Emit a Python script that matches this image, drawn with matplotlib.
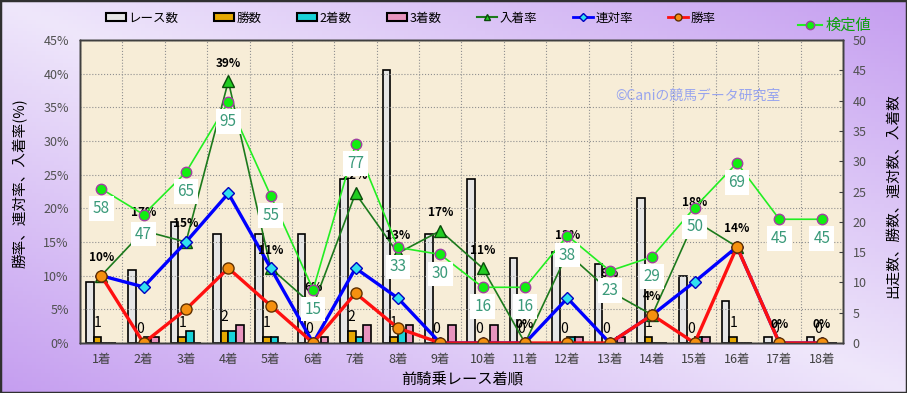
import numpy as np
import matplotlib.pyplot as plt
from matplotlib.patches import Patch, Rectangle
from matplotlib.lines import Line2D
from matplotlib.colors import to_rgb

plt.rcParams['font.family'] = ['Noto Sans CJK JP', 'DejaVu Sans']

# データ（前走着順別）
places = ['1着', '2着', '3着', '4着', '5着', '6着', '7着', '8着', '9着',
          '10着', '11着', '12着', '13着', '14着', '15着', '16着', '17着', '18着']
races = np.array([10, 12, 20, 18, 18, 18, 27, 45, 18, 27, 14, 15, 13, 24, 11, 7, 1, 1])
wins = np.array([1, 0, 1, 2, 1, 0, 2, 1, 0, 0, 0, 0, 0, 1, 0, 1, 0, 0])
seconds = np.array([0, 1, 2, 2, 1, 0, 1, 2, 0, 0, 0, 1, 0, 0, 1, 0, 0, 0])
thirds = np.array([0, 1, 0, 3, 0, 1, 3, 3, 3, 3, 0, 1, 1, 0, 1, 0, 0, 0])
test_vals = [58, 47, 65, 95, 55, 15, 77, 33, 30, 16, 16, 38, 23, 29, 50, 69, 45, 45]

win_rate = wins / races * 100
ren_rate = (wins + seconds) / races * 100
in_rate = (wins + seconds + thirds) / races * 100

x = np.arange(len(places))
w = 0.18

fig = plt.figure(figsize=(9.07, 3.93), dpi=100)

# 背景グラデーション
ax_bg = fig.add_axes([0, 0, 1, 1], zorder=-10)
u, v = np.meshgrid(np.linspace(0, 1, 200), np.linspace(0, 1, 100))
t = np.abs(u - v)[..., None]
light = np.array(to_rgb('#efe7fb'))
purple = np.array(to_rgb('#c59ef0'))
ax_bg.imshow(light * (1 - t) + purple * t, aspect='auto', extent=[0, 1, 0, 1])
ax_bg.axis('off')
fig.patches.append(Rectangle((0, 0), 1, 1, transform=fig.transFigure,
                             fill=False, ec='#303030', lw=2.5))

rect = [0.0882, 0.1272, 0.8412, 0.771]
ax = fig.add_axes(rect)
axb = ax.twinx()
ax3 = ax.twinx()
axb.set_zorder(1)
ax.set_zorder(2)
ax3.set_zorder(3)
ax.patch.set_visible(False)
ax3.patch.set_visible(False)
axb.patch.set_visible(True)
axb.patch.set_facecolor('#f7edd7')

# 棒グラフ（右軸）
axb.bar(x - 1.5 * w, races, w, color='#e6e6e6', edgecolor='black', lw=1.2)
axb.bar(x - 0.5 * w, wins, w, color='#e5a800', edgecolor='black', lw=1.2)
axb.bar(x + 0.5 * w, seconds, w, color='#18d2d8', edgecolor='black', lw=1.2)
axb.bar(x + 1.5 * w, thirds, w, color='#e894be', edgecolor='black', lw=1.2)
for i in x:
    axb.annotate(str(wins[i]), (i - 0.5 * w, wins[i]), xytext=(0, 10),
                 textcoords='offset points', ha='center', va='center', fontsize=10)
axb.set_ylim(0, 50)
axb.set_yticks(range(0, 51, 5))
axb.tick_params(axis='y', direction='in', length=3, pad=7, labelsize=9,
                labelcolor='#505050', color='#404040')

# 折れ線（左軸）
ax.plot(x, in_rate, color='#1c7a1c', lw=1.2, marker='^', ms=8.5,
        mfc='#22cc22', mec='#0a4a0a', zorder=3)
ax.plot(x, ren_rate, color='#0000ff', lw=2.4, marker='D', ms=6.5,
        mfc='#30e0f0', mec='#0000c0', zorder=4)
ax.plot(x, win_rate, color='#ff1010', lw=2.4, marker='o', ms=8,
        mfc='#f59010', mec='#603000', zorder=5)
for i in x:
    ax.annotate(f"{round(in_rate[i])}%", (i, in_rate[i]), xytext=(0, 13),
                textcoords='offset points', ha='center', va='center',
                fontsize=8.5, fontweight='bold', zorder=6)
ax.set_ylim(0, 45)
ax.set_xlim(-0.5, len(places) - 0.5)
ax.set_yticks(range(0, 46, 5))
ax.set_yticklabels([f"{v}%" for v in range(0, 46, 5)])
ax.set_xticks(x)
ax.set_xticklabels(places)
ax.set_xticks(np.arange(-0.5, len(places), 1), minor=True)
ax.tick_params(axis='y', length=0, pad=8, labelsize=9, labelcolor='#505050')
ax.tick_params(axis='x', which='both', length=0, pad=7, labelsize=9, labelcolor='#404040')
ax.grid(True, axis='y', which='major', ls=':', color='#909090', lw=0.8)
ax.grid(True, axis='x', which='minor', ls=':', color='#909090', lw=0.8)
ax.text(0.81, 0.816, '©Caniの競馬データ研究室', transform=ax.transAxes,
        ha='center', va='center', fontsize=10, color='#98a4ee')

# 検定値
ax3.plot(x, test_vals, color='#22ee22', lw=1.2, marker='o', ms=7.5,
         mfc='#11ee11', mec='#a040a0')
for i in x:
    ax3.annotate(str(test_vals[i]), (i, test_vals[i]), xytext=(0, -14),
                 textcoords='offset points', ha='center', va='center',
                 fontsize=11, color='#3a9a7a',
                 bbox=dict(boxstyle='square,pad=0.25', fc='white', ec='none'))
ax3.set_ylim(-7.75, 121.4)
ax3.set_yticks([])

for a in (ax, axb, ax3):
    for s in a.spines.values():
        s.set_color('#404040')
        s.set_linewidth(1)

# 凡例
handles = [
    Patch(facecolor='#e6e6e6', edgecolor='black', lw=1.5),
    Patch(facecolor='#e5a800', edgecolor='black', lw=1.5),
    Patch(facecolor='#18d2d8', edgecolor='black', lw=1.5),
    Patch(facecolor='#e894be', edgecolor='black', lw=1.5),
    Line2D([], [], color='#1c7a1c', lw=1.5, marker='^', ms=5, mfc='#22cc22', mec='#0a4a0a'),
    Line2D([], [], color='#0000ff', lw=2, marker='D', ms=4, mfc='#30e0f0', mec='#0000c0'),
    Line2D([], [], color='#ff1010', lw=2, marker='o', ms=5, mfc='#f59010', mec='#603000'),
]
labels = ['レース数', '勝数', '2着数', '3着数', '入着率', '連対率', '勝率']
fig.legend(handles, labels, loc='center', bbox_to_anchor=(0.453, 0.954), ncol=7,
           frameon=False, fontsize=9, handlelength=1.6, handleheight=0.6,
           handletextpad=0.2, columnspacing=2.85)
fig.legend([Line2D([], [], color='#22ee22', lw=1.5, marker='o', ms=6,
                   mfc='#11ee11', mec='#a040a0')], ['検定値'],
           loc='center', bbox_to_anchor=(0.92, 0.935), frameon=False,
           fontsize=11, labelcolor='#10a010', handlelength=1.6, handletextpad=0.2)

fig.text(0.022, 0.533, '勝率、連対率、入着率(%)', rotation=90, ha='center',
         va='center', fontsize=10.5)
fig.text(0.9846, 0.501, '出走数、勝数、連対数、入着数', rotation=90, ha='center',
         va='center', fontsize=10.5)
fig.text(0.509, 0.036, '前騎乗レース着順', ha='center', va='center', fontsize=11)

fig.savefig('out.png', dpi=100)
